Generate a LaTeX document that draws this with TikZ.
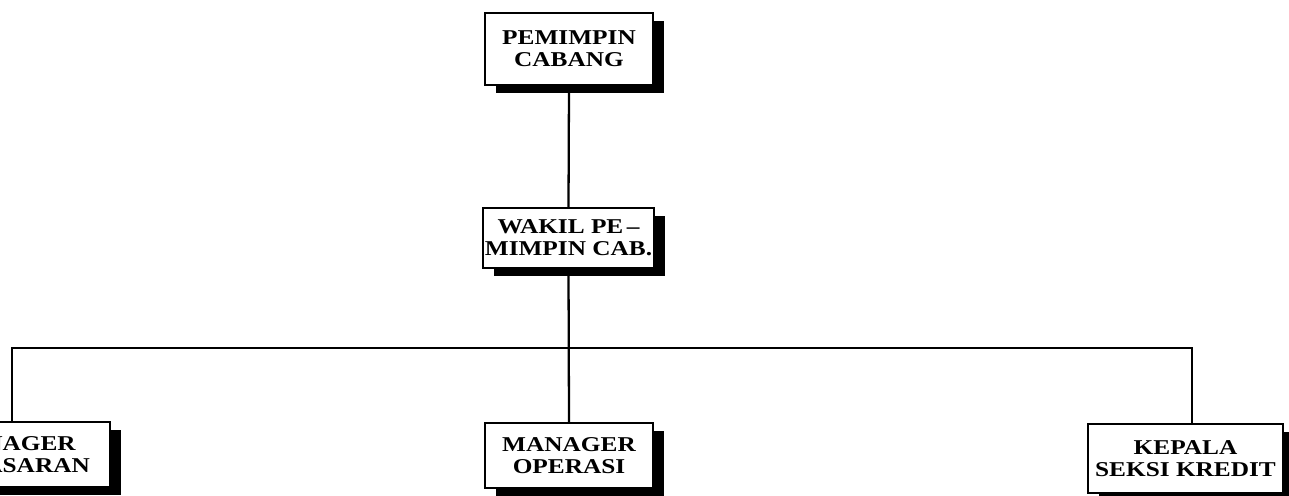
\documentclass[tikz,border=0pt]{standalone}
\usepackage{fontspec}
\newfontfamily\orgfont[FakeStretch=1.2, Ligatures=TeX]{Liberation Serif}
\usetikzlibrary{shadows}

\begin{document}
\begin{tikzpicture}[
  unit/.style={rectangle, draw, line width=1.2pt, fill=white, align=center,
               inner xsep=1pt,
               font=\orgfont\bfseries\fontsize{12}{12.5}\selectfont,
               drop shadow={shadow xshift=0.22cm, shadow yshift=-0.16cm,
                            opacity=1, fill=black}},
  link/.style={line width=1.3pt}
]
\useasboundingbox (0,0) rectangle (25.78,9.9);

% Pimpinan
\node[unit, minimum width=3.36cm, minimum height=1.44cm] (pimpinan) at (11.38,8.92) {PEMIMPIN\\CABANG};
\node[unit, minimum width=3.34cm, minimum height=1.2cm] (wakil) at (11.37,5.14) {WAKIL PE\,--\\MIMPIN CAB.};

% Bagian
\node[unit, minimum width=4.04cm, minimum height=1.3cm] (pemasaran) at (0.18,0.81) {MANAGER\\PEMASARAN};
\node[unit, minimum width=3.36cm, minimum height=1.3cm] (operasi) at (11.38,0.79) {MANAGER\\OPERASI};
\node[unit, minimum width=3.9cm, minimum height=1.38cm] (kredit) at (23.71,0.73) {KEPALA\\SEKSI KREDIT};

% Garis
\coordinate (bus) at (11.38,2.94);
\coordinate (pemasaranin) at ([xshift=0.06cm]pemasaran.north);
\coordinate (kreditin) at ([xshift=0.13cm]kredit.north);
\draw[link] (pimpinan.south) -- (wakil.north);
\draw[link] (wakil.south) -- (operasi.north);
\draw[link] (pemasaranin) |- (bus) -| (kreditin);
\end{tikzpicture}
\end{document}
